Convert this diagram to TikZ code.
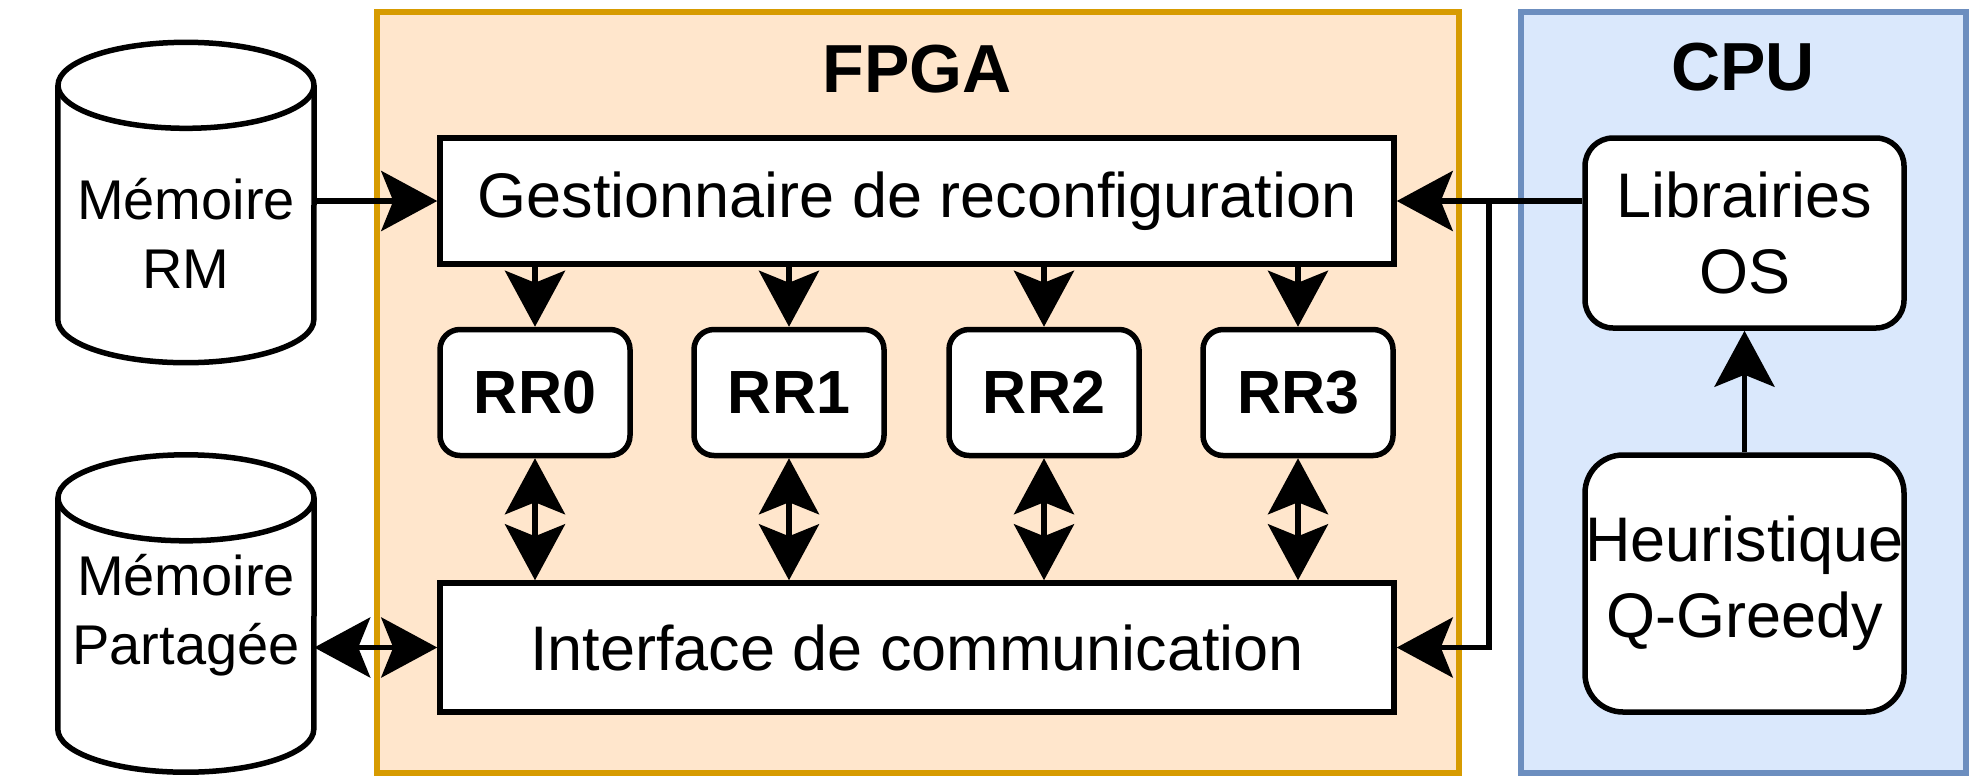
\documentclass[tikz,border=0pt]{standalone}
\usepackage{fontspec}
\setmainfont{Liberation Sans}
\usetikzlibrary{arrows.meta}
\definecolor{fpgafill}{HTML}{FFE6CC}
\definecolor{fpgadraw}{HTML}{D79B00}
\definecolor{cpufill}{HTML}{DAE8FC}
\definecolor{cpudraw}{HTML}{6C8EBF}
\begin{document}
\begin{tikzpicture}[x=1pt,y=-1pt,
  lw/.style={line width=5.5pt},
  container/.style={line width=5.5pt, inner sep=0pt},
  txt/.style={font=\fontsize{56}{69}\selectfont, align=center, inner sep=0pt},
  title/.style={font=\fontsize{68}{80}\selectfont\bfseries, inner sep=0pt},
  box/.style={lw, draw=black, fill=white, inner sep=0pt, font=\fontsize{63}{76}\selectfont, align=center},
  rrbox/.style={box, rounded corners=20pt, minimum width=190pt, minimum height=126pt, font=\fontsize{61}{73}\selectfont\bfseries},
  cylbox/.style={draw=none, inner sep=0pt, minimum width=256pt},
  cyl/.style={lw, draw=black, fill=white},
  arr/.style={lw, -{Stealth[length=56pt,width=60pt,inset=12pt]}},
  darr/.style={lw, {Stealth[length=56pt,width=60pt,inset=12pt]}-{Stealth[length=56pt,width=60pt,inset=12pt]}},
]
\useasboundingbox (0,0) rectangle (1972,780);
\fill[white] (0,0) rectangle (1972,780);

% containers
\node[container, draw=fpgadraw, fill=fpgafill, minimum width=1082pt, minimum height=761pt] (fpga) at (918,392.5) {};
\node[container, draw=cpudraw, fill=cpufill, minimum width=445pt, minimum height=761pt] (cpu) at (1743.5,392.5) {};
\node[title] (fpgat) at (917,69) {FPGA};
\node[title] (cput) at (1743,67) {CPU};

% cylinders
\node[cylbox, minimum height=320pt] (memrm) at (186,202.5) {};
\draw[cyl] ([yshift=-43pt]memrm.north west) -- ([yshift=43pt]memrm.south west)
  arc[start angle=180, end angle=360, x radius=128pt, y radius=43pt]
  -- ([yshift=-43pt]memrm.north east);
\draw[cyl] ([yshift=-43pt]memrm.north) ellipse [x radius=128pt, y radius=43pt];
\node[txt] (memrmt) at (186,233) {Mémoire\\RM};

\node[cylbox, minimum height=317pt] (memp) at (186,613.5) {};
\draw[cyl] ([yshift=-43pt]memp.north west) -- ([yshift=43pt]memp.south west)
  arc[start angle=180, end angle=360, x radius=128pt, y radius=43pt]
  -- ([yshift=-43pt]memp.north east);
\draw[cyl] ([yshift=-43pt]memp.north) ellipse [x radius=128pt, y radius=43pt];
\node[txt] (mempt) at (186,615) {Mémoire\\Partagée};

% FPGA blocks
\node[box, minimum width=954pt, minimum height=126pt] (gest) at (917,201) {Gestionnaire de reconfiguration};
\node[box, minimum width=954pt, minimum height=129pt] (inter) at (917,647.5) {Interface de communication};
\node[rrbox] (rr0) at (535,392.5) {RR0};
\node[rrbox] (rr1) at (789,392.5) {RR1};
\node[rrbox] (rr2) at (1044,392.5) {RR2};
\node[rrbox] (rr3) at (1298,392.5) {RR3};

% CPU blocks
\node[box, rounded corners=28pt, minimum width=319pt, minimum height=190pt] (lib) at (1744.5,233) {Librairies\\OS};
\node[box, rounded corners=38pt, minimum width=319pt, minimum height=257pt] (heur) at (1744.5,583.5) {Heuristique\\Q-Greedy};

% connectors
\draw[arr] (gest.west -| memrm.east) -- (gest.west);
\draw[darr] (inter.west -| memp.east) -- (inter.west);
\foreach \r in {rr0,rr1,rr2,rr3}{
  \draw[arr] (\r.north |- gest.south) -- (\r.north);
  \draw[darr] (\r.south) -- (\r.south |- inter.north);
}
\draw[arr] (gest.east -| lib.west) -- (gest.east);
\coordinate (jn) at (1489,201);
\draw[arr] (jn) |- (inter.east);
\draw[arr] (heur.north) -- (lib.south);
\end{tikzpicture}
\end{document}
